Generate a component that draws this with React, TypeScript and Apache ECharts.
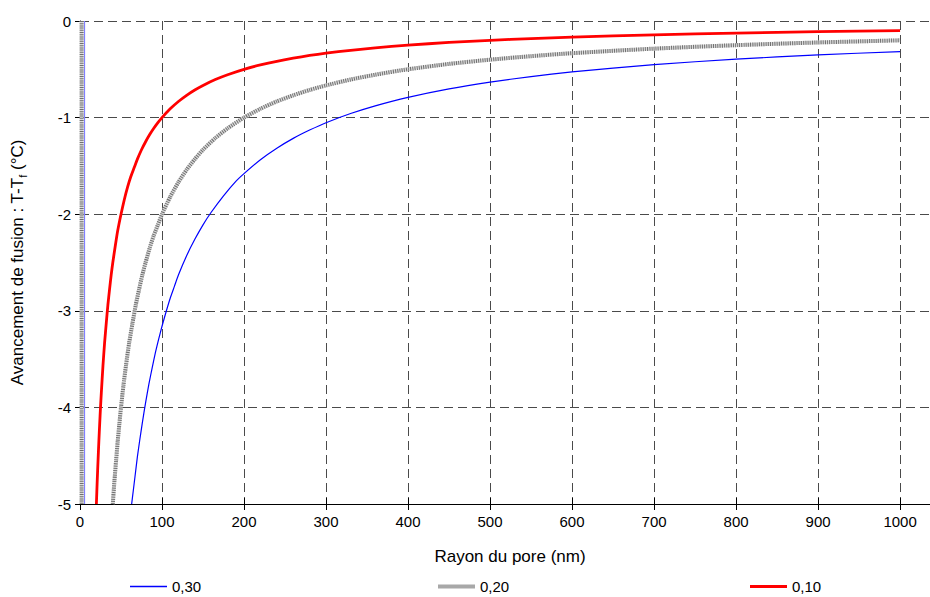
import React, { useEffect, useRef } from "react";
import * as echarts from "echarts";

const seriesNames = ["0,30", "0,20", "0,10"];
const xTitle = "Rayon du pore (nm)";
const yTitleMain = "Avancement de fusion : T-T";
const yTitleSub = "f";
const yTitleUnit = " (°C)";

// Values (pore radius in nm, T - Tf in °C)
const radiusBlue = [63, 65, 67, 70, 73, 76, 80, 84, 88, 92, 96, 100, 105, 110, 115, 120, 130, 140, 150, 160, 175, 190, 200, 220, 240, 260, 280, 300, 330, 360, 400, 450, 500, 550, 600, 700, 800, 900, 1000];
const valuesBlue = [-5, -4.86, -4.72, -4.51, -4.33, -4.16, -3.95, -3.76, -3.59, -3.43, -3.29, -3.16, -3.01, -2.87, -2.75, -2.63, -2.43, -2.26, -2.11, -1.98, -1.81, -1.66, -1.58, -1.436, -1.317, -1.215, -1.129, -1.053, -0.958, -0.878, -0.79, -0.702, -0.632, -0.575, -0.527, -0.451, -0.395, -0.351, -0.316];

const radiusGray = [40, 42, 44, 46, 48, 50, 53, 56, 60, 64, 68, 72, 76, 80, 85, 90, 95, 100, 110, 120, 130, 140, 150, 165, 180, 200, 220, 240, 260, 280, 300, 330, 360, 400, 450, 500, 550, 600, 700, 800, 900, 1000];
const valuesGray = [-5, -4.76, -4.55, -4.35, -4.17, -4, -3.77, -3.57, -3.33, -3.13, -2.94, -2.78, -2.63, -2.5, -2.35, -2.22, -2.11, -2, -1.82, -1.67, -1.54, -1.43, -1.333, -1.212, -1.111, -1, -0.909, -0.833, -0.769, -0.714, -0.667, -0.606, -0.556, -0.5, -0.444, -0.4, -0.364, -0.333, -0.286, -0.25, -0.222, -0.2];

const radiusRed = [20, 21, 22, 23, 24, 25, 26, 28, 30, 32, 34, 36, 38, 40, 43, 46, 50, 54, 58, 62, 66, 70, 75, 80, 85, 90, 95, 100, 110, 120, 130, 140, 150, 165, 180, 200, 220, 240, 260, 280, 300, 330, 360, 400, 450, 500, 550, 600, 700, 800, 900, 1000];
const valuesRed = [-5, -4.76, -4.55, -4.35, -4.17, -4, -3.85, -3.57, -3.33, -3.13, -2.94, -2.78, -2.63, -2.5, -2.33, -2.17, -2, -1.85, -1.72, -1.61, -1.52, -1.43, -1.333, -1.25, -1.176, -1.111, -1.053, -1, -0.909, -0.833, -0.769, -0.714, -0.667, -0.606, -0.556, -0.5, -0.455, -0.417, -0.385, -0.357, -0.333, -0.303, -0.278, -0.25, -0.222, -0.2, -0.182, -0.167, -0.143, -0.125, -0.111, -0.1];

// near-zero radius segments (vertical lines at the left edge)
const radiusBlueEdge = [5.5, 5.5];
const valuesBlueEdge = [0, -5];
const radiusGrayEdge = [2, 2];
const valuesGrayEdge = [0, -5];

const xMin = 0;
const xMaxTick = 1000;
const xInterval = 100;
const yMin = -5;
const yMax = 0;
const yInterval = 1;

const zip = (xs: number[], ys: number[]) => xs.map((x, i) => [x, ys[i]]);

const FONT = "'Liberation Sans', Arial, sans-serif";

export default function App() {
  const ref = useRef<HTMLDivElement>(null);
  useEffect(() => {
    if (!ref.current) return;
    const chart = echarts.init(ref.current, undefined, { renderer: "svg" });
    const gridLeft = 80;
    const gridRight = -2;
    const plotWidth = 930 - gridLeft - gridRight;
    const pxPer1000 = 822;
    const xMax = (xMaxTick * plotWidth) / pxPer1000;

    const gridLine = { show: true, lineStyle: { color: "#4a4a4a", type: [9, 5], width: 1 } };
    const labelFmt = (v: number) => (Math.abs(v % xInterval) < 1e-6 && v <= xMaxTick ? String(v) : "");

    const line = (name: string, data: number[][], color: string, width: number, z: number, type: any = "solid", smooth = 0.2) => ({
      name,
      type: "line",
      data,
      showSymbol: false,
      symbol: "none",
      clip: true,
      silent: true,
      smooth,
      lineStyle: { color, width, type },
      itemStyle: { color },
      z,
    });

    const legendBase = {
      itemWidth: 37,
      itemGap: 2,
      padding: 0,
      top: 579,
      icon: "rect",
      textStyle: { fontFamily: FONT, fontSize: 15, color: "#000" },
      selectedMode: false,
    };

    chart.setOption({
      animation: false,
      backgroundColor: "#ffffff",
      grid: { left: gridLeft, right: gridRight, top: 21, bottom: 93, containLabel: false },
      xAxis: [
        {
          type: "value",
          min: xMin,
          max: xMax,
          interval: xInterval,
          position: "bottom",
          name: xTitle,
          nameLocation: "middle",
          nameGap: 44,
          nameTextStyle: { fontFamily: FONT, fontSize: 17, color: "#000", padding: [0, 0, 0, 10] },
          axisLine: { show: true, onZero: false, lineStyle: { color: "#000", width: 1 } },
          axisTick: { show: true, inside: false, length: 6, lineStyle: { color: "#000" } },
          axisLabel: { fontFamily: FONT, fontSize: 15, color: "#000", margin: 10, formatter: labelFmt, showMaxLabel: false },
          splitLine: gridLine,
        },
        {
          type: "value",
          min: xMin,
          max: xMax,
          interval: xInterval,
          position: "bottom",
          axisLine: { show: false, onZero: false },
          axisTick: { show: true, inside: true, length: 6, lineStyle: { color: "#000" } },
          axisLabel: { show: false },
          splitLine: { show: false },
        },
      ],
      yAxis: [
        {
          type: "value",
          min: yMin,
          max: yMax,
          interval: yInterval,
          position: "left",
          name: `{a|${yTitleMain}}{b|${yTitleSub}}{a|${yTitleUnit}}`,
          nameLocation: "middle",
          nameGap: 52,
          nameRotate: 90,
          nameTextStyle: {
            rich: {
              a: { fontFamily: FONT, fontSize: 17, color: "#000", lineHeight: 22, verticalAlign: "middle" },
              b: { fontFamily: FONT, fontSize: 11, color: "#000", lineHeight: 22, verticalAlign: "bottom", padding: [8, 0, 0, 0] },
            },
          },
          axisLine: { show: true, onZero: false, lineStyle: { color: "#000", width: 1 } },
          axisTick: { show: true, inside: false, length: 5, lineStyle: { color: "#000" } },
          axisLabel: { fontFamily: FONT, fontSize: 15, color: "#000", margin: 9 },
          splitLine: gridLine,
        },
        {
          type: "value",
          min: yMin,
          max: yMax,
          interval: yInterval,
          position: "left",
          axisLine: { show: false, onZero: false },
          axisTick: { show: true, inside: true, length: 5, lineStyle: { color: "#000" } },
          axisLabel: { show: false },
          splitLine: { show: false },
        },
      ],
      legend: [
        { ...legendBase, left: 130, itemHeight: 1.5, data: [{ name: seriesNames[0], itemStyle: { color: "#0000ff" } }] },
        { ...legendBase, left: 438, itemHeight: 4, data: [{ name: seriesNames[1], itemStyle: { color: "#a8a8a8" } }] },
        { ...legendBase, left: 750, itemHeight: 3, data: [{ name: seriesNames[2], itemStyle: { color: "#ff0000" } }] },
      ],
      series: [
        line(seriesNames[0], zip(radiusBlue, valuesBlue), "#0000ff", 1.2, 3),
        line(seriesNames[0], zip(radiusBlueEdge, valuesBlueEdge), "#8080ff", 1.2, 3, "solid", 0),
        line(seriesNames[1], zip(radiusGray, valuesGray), "#707070", 4, 4, [1, 1.2]),
        line(seriesNames[1], zip(radiusGray, valuesGray), "#dcdcdc", 4, 3),
        line(seriesNames[1], zip(radiusGrayEdge, valuesGrayEdge), "#707070", 4, 4, [1, 1.2], 0),
        line(seriesNames[1], zip(radiusGrayEdge, valuesGrayEdge), "#dcdcdc", 4, 3, "solid", 0),
        line(seriesNames[2], zip(radiusRed, valuesRed), "#ff0000", 2.8, 5),
      ],
    });
    return () => chart.dispose();
  }, []);
  return <div ref={ref} style={{ position: "absolute", left: 0, top: 0, width: 930, height: 597 }} />;
}
